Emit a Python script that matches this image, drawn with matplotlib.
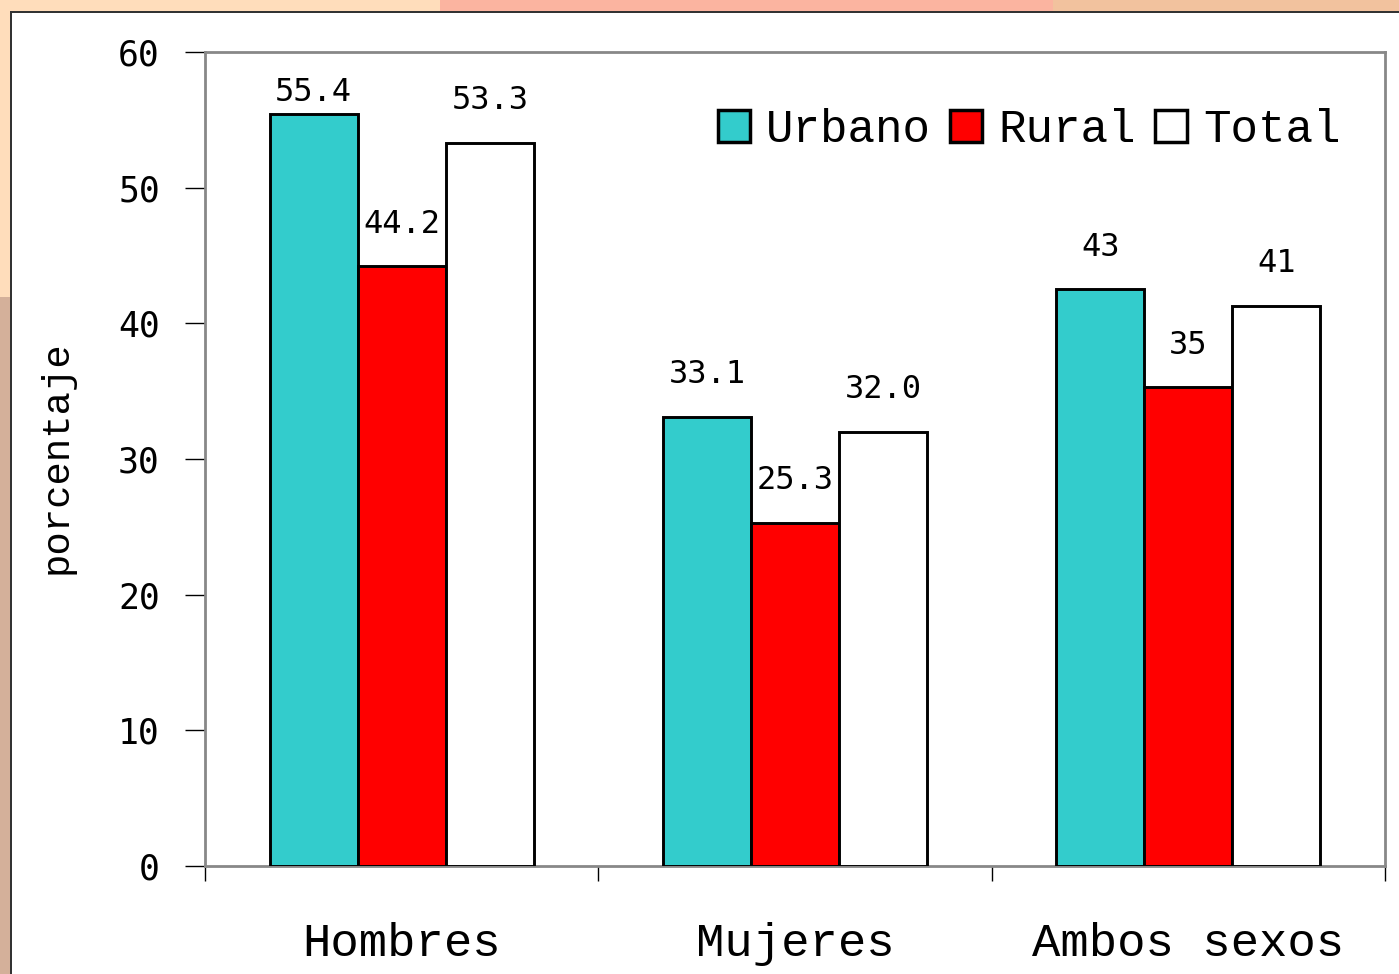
import matplotlib
matplotlib.use("Agg")
import matplotlib.pyplot as plt
import matplotlib.patches as mpatches
import numpy as np

categories = ["Hombres", "Mujeres", "Ambos sexos"]
series_names = ["Urbano", "Rural", "Total"]
urbano = [55.4, 33.1, 42.5]
rural = [44.2, 25.3, 35.3]
total = [53.3, 32.0, 41.3]
urbano_labels = ["55.4", "33.1", "43"]
rural_labels = ["44.2", "25.3", "35"]
total_labels = ["53.3", "32.0", "41"]
yticks = [0, 10, 20, 30, 40, 50, 60]
ylabel = "porcentaje"

colors = ["#33CCCC", "#FF0000", "#FFFFFF"]

W, H = 1399, 974
fig = plt.figure(figsize=(W / 100, H / 100), dpi=100)
fig.patch.set_facecolor("white")

def px(x0, y0, x1, y1, color, z=0):
    r = mpatches.Rectangle((x0 / W, 1 - y1 / H), (x1 - x0) / W, (y1 - y0) / H,
                           transform=fig.transFigure, facecolor=color,
                           edgecolor="none", zorder=z)
    fig.patches.append(r)

# decorative background strips
px(0, 0, 440, 12, "#FFDDBB")
px(440, 0, 1053, 12, "#FBB4A0")
px(1053, 0, 1399, 12, "#F2C29E")
px(0, 0, 11, 297, "#FFDDBB")
px(0, 297, 11, 974, "#D4B09A")
px(11, 11, 1399, 13, "#333333")
px(10, 11, 12, 974, "#333333")

ax = fig.add_axes([205 / W, 1 - 866 / H, (1385 - 205) / W, (866 - 52) / H])
ax.set_facecolor("white")

x = np.arange(len(categories))
bw = 0.224
offsets = [-bw, 0, bw]
all_vals = [urbano, rural, total]
all_labels = [urbano_labels, rural_labels, total_labels]

for i, (vals, labs) in enumerate(zip(all_vals, all_labels)):
    ax.bar(x + offsets[i], vals, width=bw, color=colors[i], edgecolor="black",
           linewidth=2.1, label=series_names[i], zorder=3)
    for xi, v, lab in zip(x, vals, labs):
        ax.text(xi + offsets[i], min(v + 3.1, 57.0), lab, ha="center", va="center",
                fontsize=23, family="DejaVu Sans Mono", color="black", zorder=4)

ax.set_xlim(-0.5, 2.5)
ax.set_ylim(0, 60)
ax.set_yticks(yticks)
ax.set_yticklabels([str(t) for t in yticks], fontsize=25, family="DejaVu Sans Mono")
ax.tick_params(axis="y", direction="out", length=14.5, width=1, color="black", pad=18)

ax.set_xticks([-0.5, 0.5, 1.5, 2.5])
ax.set_xticklabels([])
ax.tick_params(axis="x", which="major", direction="out", length=11, width=1, color="black")
ax.set_xticks(x, minor=True)
ax.set_xticklabels(categories, minor=True, fontsize=34, family="Liberation Mono")
ax.tick_params(axis="x", which="minor", length=0, pad=40)

for s in ax.spines.values():
    s.set_color("#888888")
    s.set_linewidth(2)

fig.text(57 / W, 1 - 457 / H, ylabel, rotation=90, ha="center", va="center",
         fontsize=28, family="Liberation Mono")

leg = ax.legend(loc="center left", bbox_to_anchor=(718 / W, 1 - 130 / H),
                bbox_transform=fig.transFigure, ncol=3, frameon=False,
                prop={"family": "Liberation Mono", "size": 33},
                handlelength=0.7, handleheight=0.7, handletextpad=0.35,
                columnspacing=0.42, borderpad=0, borderaxespad=0)
for h in leg.legend_handles:
    h.set_linewidth(2.5)

fig.savefig("out.png", dpi=100, facecolor=fig.get_facecolor())
